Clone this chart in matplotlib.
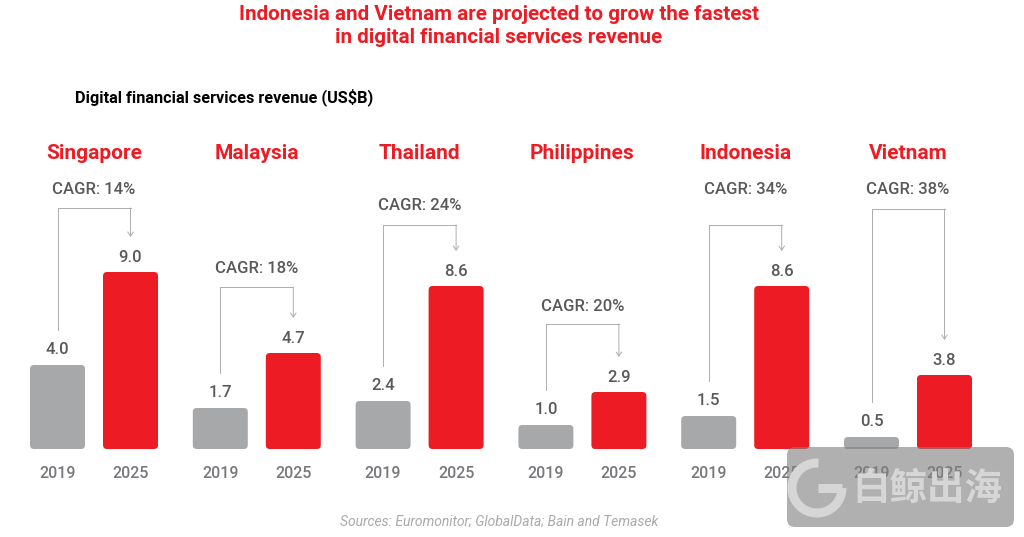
"""
Ricavi dei servizi finanziari digitali per paese
"""
import matplotlib.pyplot as plt
from matplotlib.patches import Arc, FancyBboxPatch


COUNTRIES = ["Singapore", "Malaysia", "Thailand", "Philippines", "Indonesia", "Vietnam"]
YEARS = ["2019", "2025"]
LABELS_2019 = ["4.0", "1.7", "2.4", "1.0", "1.5", "0.5"]
LABELS_2025 = ["9.0", "4.7", "8.6", "2.9", "8.6", "3.8"]
CAGR = ["14%", "18%", "24%", "20%", "34%", "38%"]
# altezze: le barre originali non sono proporzionali alle etichette
HEIGHTS_2019 = [4.2, 2.05, 2.4, 1.2, 1.65, 0.6]
HEIGHTS_2025 = [8.85, 4.8, 8.15, 2.85, 8.15, 3.7]
BRACKET_TOP = [12.05, 8.1, 11.2, 6.25, 11.2, 12.0]
CAGR_LEVEL = [12.98, 9.03, 12.18, 7.13, 12.98, 12.98]

RED = "#ed1c24"
GREY = "#a7a8aa"
DARK = "#58595b"
PX = 20 # pixel per unita sull'asse y


def draw_bar(ax, x, height, color):
    """
    Disegna una barra con gli angoli arrotondati
    """
    bar = FancyBboxPatch(
        (x - 27.5, 0),
        55,
        height,
        boxstyle="round,pad=0,rounding_size=4",
        mutation_aspect=1 / PX,
        facecolor=color,
        edgecolor="none",
        zorder=2,
    )
    ax.add_patch(bar)


def draw_bracket(ax, x_left, x_right, top, h_left, h_right):
    """
    Disegna il connettore CAGR tra le due barre
    """
    gap = 35 / PX # spazio sopra la barra, occupato dall'etichetta
    ax.plot(
        [x_left, x_left, x_right],
        [h_left + gap, top, top],
        color="#adadad",
        lw=0.7,
        zorder=1,
    )
    ax.annotate(
        "",
        xy=(x_right, h_right + gap),
        xytext=(x_right, top),
        arrowprops={
            "arrowstyle": "->,head_length=0.3,head_width=0.2",
            "color": "#adadad",
            "lw": 0.7,
            "shrinkA": 0,
            "shrinkB": 0,
            "mutation_scale": 10,
        },
        zorder=1,
    )


def draw_watermark(ax):
    """
    Riproduce il riquadro grigio in basso a destra
    """
    box = FancyBboxPatch(
        (787, -3.9),
        227,
        4.0,
        boxstyle="round,pad=0,rounding_size=8",
        mutation_aspect=1 / PX,
        facecolor="#808080",
        edgecolor="none",
        alpha=0.62,
        zorder=5,
    )
    ax.add_patch(box)
    logo = Arc(
        (817, -1.95),
        50,
        50 / PX,
        theta1=40,
        theta2=360,
        color="#d6d6d6",
        lw=6.5,
        zorder=6,
    )
    ax.add_patch(logo)
    ax.plot([818, 842], [-1.95, -1.95], color="#d6d6d6", lw=6.5, solid_capstyle="butt", zorder=6)
    ax.text(
        927,
        -1.95,
        "白鲸出海",
        family=["Noto Sans CJK SC", "DejaVu Sans"],
        fontsize=27,
        fontweight="bold",
        color="#d6d6d6",
        ha="center",
        va="center",
        zorder=6,
    )


def show_chart():
    """
    Costruisce il grafico e lo salva su file
    """
    plt.rcParams["font.family"] = ["Roboto", "DejaVu Sans"]

    fig, ax = plt.subplots(figsize=(10.24, 5.37), dpi=100)
    fig.subplots_adjust(left=0, right=1, bottom=0, top=1)
    ax.set_xlim(0, 1024)
    ax.set_ylim(-88 / PX, 449 / PX)
    ax.axis("off")

    for i, country in enumerate(COUNTRIES):
        center = 94 + 162.8 * i
        x_left = center - 36.5
        x_right = center + 36.5
        h_left = HEIGHTS_2019[i]
        h_right = HEIGHTS_2025[i]

        draw_bar(ax, x_left, h_left, GREY)
        draw_bar(ax, x_right, h_right, RED)
        draw_bracket(ax, x_left, x_right, BRACKET_TOP[i], h_left, h_right)

        ax.text(center, 14.8, country, color=RED, fontsize=15, fontweight="bold", ha="center", va="center")
        ax.text(center, CAGR_LEVEL[i], f"CAGR: {CAGR[i]}", color=DARK, fontsize=12, fontweight="medium", ha="center", va="center")
        ax.text(x_left, h_left + 0.77, LABELS_2019[i], color=DARK, fontsize=12, fontweight="medium", ha="center", va="center")
        ax.text(x_right, h_right + 0.72, LABELS_2025[i], color=DARK, fontsize=12, fontweight="medium", ha="center", va="center")
        ax.text(x_left, -1.25, YEARS[0], color="#77787b", fontsize=11.5, fontweight="medium", ha="center", va="center")
        ax.text(x_right, -1.25, YEARS[1], color="#77787b", fontsize=11.5, fontweight="medium", ha="center", va="center")

    ax.text(
        499,
        21.15,
        "Indonesia and Vietnam are projected to grow the fastest\nin digital financial services revenue",
        color=RED,
        fontsize=14.9,
        fontweight="bold",
        ha="center",
        va="center",
        linespacing=1.25,
    )
    ax.text(75, 17.6, "Digital financial services revenue (US$B)", color="black", fontsize=11.7, fontweight="bold", ha="left", va="center")
    ax.text(499, -3.65, "Sources: Euromonitor; GlobalData; Bain and Temasek", color="#a9aaac", fontsize=10, style="italic", ha="center", va="center")

    draw_watermark(ax)

    fig.savefig("out.png", dpi=100)


show_chart()
